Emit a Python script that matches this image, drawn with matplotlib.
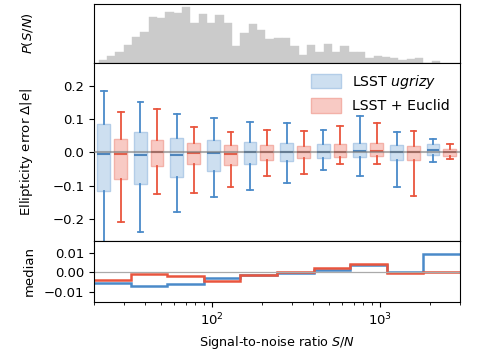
import numpy as np
import matplotlib
matplotlib.use("Agg")
import matplotlib.pyplot as plt
from matplotlib.patches import Patch

# ---- data ----
sn_min, sn_max = 20.0, 3000.0
n_bins = 10

# histogram of S/N (relative counts), log-spaced bars
hist_log_start = 1.3294
hist_log_width = 0.0495
hist_counts = [10, 20, 32, 55, 78, 92, 137, 135, 151, 149, 167, 120, 146, 118,
               143, 120, 52, 89, 115, 97, 72, 74, 75, 52, 23, 54, 32, 56, 34,
               50, 32, 34, 15, 21, 17, 16, 8, 12, 15, 0, 5]

# box statistics per bin: whislo, q1, med, q3, whishi
lsst_whislo = [-0.29, -0.241, -0.181, -0.135, -0.113, -0.091, -0.053, -0.070, -0.105, -0.028]
lsst_q1     = [-0.115, -0.095, -0.074, -0.056, -0.035, -0.025, -0.018, -0.015, -0.022, -0.007]
lsst_med    = [-0.006, -0.008, -0.007, -0.002, 0.000, 0.000, 0.001, 0.004, 0.000, 0.009]
lsst_q3     = [0.085, 0.061, 0.045, 0.038, 0.032, 0.028, 0.027, 0.030, 0.023, 0.025]
lsst_whishi = [0.185, 0.151, 0.115, 0.103, 0.092, 0.089, 0.068, 0.109, 0.062, 0.040]

euc_whislo = [-0.211, -0.125, -0.121, -0.105, -0.070, -0.064, -0.036, -0.036, -0.130, -0.021]
euc_q1     = [-0.080, -0.041, -0.035, -0.038, -0.024, -0.018, -0.013, -0.011, -0.022, -0.010]
euc_med    = [-0.004, 0.000, -0.001, -0.005, 0.000, 0.000, 0.003, 0.004, 0.000, 0.000]
euc_q3     = [0.041, 0.038, 0.029, 0.022, 0.022, 0.021, 0.026, 0.028, 0.020, 0.011]
euc_whishi = [0.123, 0.131, 0.076, 0.061, 0.069, 0.065, 0.081, 0.089, 0.066, 0.027]

# median per bin (bottom panel)
lsst_median = [-0.0051, -0.0070, -0.0060, -0.0027, -0.0012, -0.0003, 0.0014, 0.0039, 0.0000, 0.0092]
euc_median  = [-0.0036, -0.0007, -0.0017, -0.0042, -0.0012, 0.0005, 0.0024, 0.0041, -0.0005, 0.0000]

labels = [r"LSST $ugrizy$", r"LSST + Euclid"]

# ---- colours ----
blue_line = "#4a8ac9"
blue_face = "#cddff0"
blue_edge = "#b3cde8"
red_line = "#e9553e"
red_face = "#f8cac4"
red_edge = "#f3b1a8"

# ---- derived ----
edges = np.logspace(np.log10(sn_min), np.log10(sn_max), n_bins + 1)
ledges = np.log10(edges)
lw_bin = np.diff(ledges)
pos_lsst = 10 ** (ledges[:-1] + 0.27 * lw_bin)
pos_euc = 10 ** (ledges[:-1] + 0.73 * lw_bin)
box_frac = 0.35
hedges = 10 ** (hist_log_start + hist_log_width * np.arange(len(hist_counts) + 1))

plt.rcParams["font.size"] = 9.5

fig = plt.figure(figsize=(4.79, 3.61), dpi=100)
L, W = 94 / 479, 366 / 479
ax_h = fig.add_axes([L, 1 - 63 / 361, W, 59 / 361])
ax_m = fig.add_axes([L, 1 - 241 / 361, W, 178 / 361], sharex=ax_h)
ax_b = fig.add_axes([L, 1 - 302 / 361, W, 61 / 361], sharex=ax_h)

# top histogram
ax_h.bar(hedges[:-1], hist_counts, width=np.diff(hedges), align="edge",
         color="#cbcbcb", edgecolor="#cbcbcb", linewidth=0.3)
ax_h.set_ylim(0, 176)
ax_h.tick_params(left=False, labelleft=False, bottom=False, labelbottom=False,
                 which="both")
ax_h.set_ylabel(r"$P(S/N)$")


def make_stats(lo, q1, med, q3, hi):
    return [dict(whislo=a, q1=b, med=c, q3=d, whishi=e, fliers=[])
            for a, b, c, d, e in zip(lo, q1, med, q3, hi)]


def box_widths(pos):
    f = 10 ** (box_frac * lw_bin / 2)
    return pos * (f - 1 / f)


for stats, pos, lc, fc, ec, mc in [
    (make_stats(lsst_whislo, lsst_q1, lsst_med, lsst_q3, lsst_whishi), pos_lsst,
     blue_line, blue_face, blue_edge, "#4f86bd"),
    (make_stats(euc_whislo, euc_q1, euc_med, euc_q3, euc_whishi), pos_euc,
     red_line, red_face, red_edge, "#e2604c"),
]:
    w = box_widths(pos)
    ax_m.bxp(stats, positions=pos, widths=w, capwidths=w * 0.45,
             patch_artist=True, showfliers=False, manage_ticks=False,
             boxprops=dict(facecolor=fc, edgecolor=ec, linewidth=1.0),
             whiskerprops=dict(color=lc, linewidth=1.3),
             capprops=dict(color=lc, linewidth=1.3),
             medianprops=dict(color=mc, linewidth=1.5))

ax_m.axhline(0, color="#777777", lw=1.5, alpha=0.6, zorder=5)
ax_m.set_xscale("log")
ax_m.set_xlim(sn_min, sn_max)
ax_m.set_ylim(-0.267, 0.27)
ax_m.set_yticks([-0.2, -0.1, 0.0, 0.1, 0.2])
ax_m.tick_params(labelbottom=False)
ax_m.set_ylabel(r"Ellipticity error $\Delta|e|$")
handles = [Patch(facecolor=blue_face, edgecolor=blue_edge),
           Patch(facecolor=red_face, edgecolor=red_edge)]
ax_m.legend(handles, labels, loc="upper right", frameon=False,
            handlelength=2.1, handleheight=1.2, fontsize=10.2,
            borderaxespad=0.3)

# bottom median panel
ax_b.axhline(0, color="#aaaaaa", lw=0.9)
ax_b.stairs(lsst_median, edges, color=blue_line, lw=1.8, baseline=None)
ax_b.stairs(euc_median, edges, color=red_line, lw=1.8, baseline=None)
ax_b.set_ylim(-0.015, 0.016)
ax_b.set_yticks([-0.01, 0.0, 0.01])
ax_b.set_yticklabels(["\u22120.01", "0.00", "0.01"])
ax_b.set_ylabel("median")
ax_b.set_xlabel(r"Signal-to-noise ratio $S/N$", fontsize=9.2)
ax_b.set_xlim(sn_min, sn_max)

for a in (ax_h, ax_m, ax_b):
    a.yaxis.set_label_coords(-0.16, 0.5)

fig.savefig("out.png", dpi=100)
